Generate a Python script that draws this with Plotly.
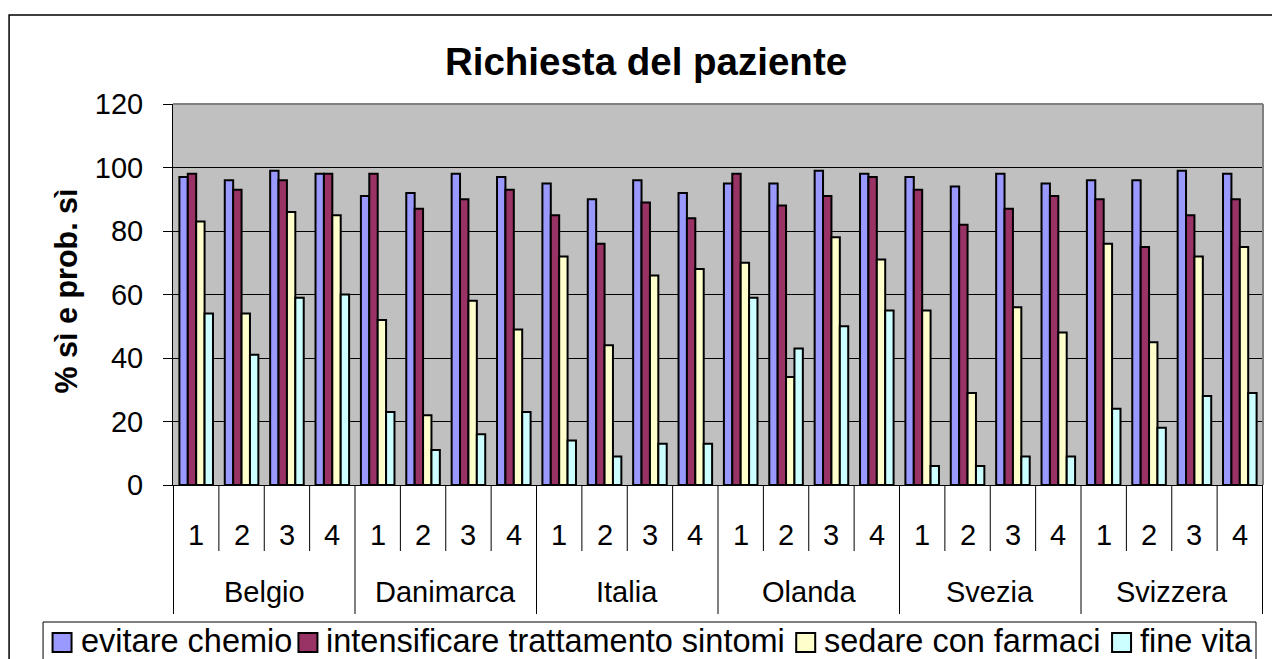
import plotly.graph_objects as go

countries = ["Belgio", "Danimarca", "Italia", "Olanda", "Svezia", "Svizzera"]
subgroups = ["1", "2", "3", "4"]

series_names = ["evitare chemio", "intensificare trattamento sintomi",
                "sedare con farmaci", "fine vita"]
colors = ["#9999FF", "#993366", "#FFFFCC", "#CCFFFF"]

evitare_chemio = [97, 96, 99, 98, 91, 92, 98, 97, 95, 90, 96, 92,
                  95, 95, 99, 98, 97, 94, 98, 95, 96, 96, 99, 98]
intensificare = [98, 93, 96, 98, 98, 87, 90, 93, 85, 76, 89, 84,
                 98, 88, 91, 97, 93, 82, 87, 91, 90, 75, 85, 90]
sedare = [83, 54, 86, 85, 52, 22, 58, 49, 72, 44, 66, 68,
          70, 34, 78, 71, 55, 29, 56, 48, 76, 45, 72, 75]
fine_vita = [54, 41, 59, 60, 23, 11, 16, 23, 14, 9, 13, 13,
             59, 43, 50, 55, 6, 6, 9, 9, 24, 18, 28, 29]

y_ticks = [0, 20, 40, 60, 80, 100, 120]

W, H = 1272, 659
L, R, T, B = 172.5, 1263, 104, 485
FONT = "Liberation Sans, Arial, sans-serif"


def px_x(p):
    return (p - L) / (R - L)


def px_y(p):
    return (B - p) / (B - T)


cats = [c + " " + s for c in countries for s in subgroups]

fig = go.Figure()
for name, vals, col in zip(series_names,
                           [evitare_chemio, intensificare, sedare, fine_vita],
                           colors):
    fig.add_trace(go.Bar(
        x=cats, y=vals, name=name,
        marker=dict(color=col, line=dict(color="black", width=2)),
        showlegend=False
    ))

shapes = []
annotations = []

# category axis dividers and labels
n = len(cats)
for i in range(n + 1):
    long_line = (i % len(subgroups) == 0)
    shapes.append(dict(type="line", xref="x", yref="paper",
                       x0=i - 0.5, x1=i - 0.5, y0=0,
                       y1=px_y(614 if long_line else 551),
                       line=dict(color="black", width=1)))
for i, c in enumerate(cats):
    annotations.append(dict(x=c, y=px_y(535), xref="x", yref="paper",
                            text=c.split(" ")[1], showarrow=False,
                            xanchor="center", yanchor="middle",
                            font=dict(family=FONT, size=29, color="black")))
for k, c in enumerate(countries):
    annotations.append(dict(x=k * 4 + 1.5, y=px_y(592), xref="x", yref="paper",
                            text=c, showarrow=False,
                            xanchor="center", yanchor="middle",
                            font=dict(family=FONT, size=29, color="black")))

# plot-area border (top and right)
shapes.append(dict(type="line", xref="paper", yref="paper", x0=0, x1=1, y0=1, y1=1,
                   line=dict(color="#808080", width=2), layer="above"))
shapes.append(dict(type="line", xref="paper", yref="paper", x0=1, x1=1, y0=0, y1=1,
                   line=dict(color="#808080", width=2), layer="above"))

# outer chart border
shapes.append(dict(type="rect", xref="paper", yref="paper",
                   x0=px_x(8.5), x1=px_x(1275), y0=px_y(665), y1=px_y(15),
                   line=dict(color="black", width=1.5)))

# legend box
shapes.append(dict(type="rect", xref="paper", yref="paper",
                   x0=px_x(42.5), x1=px_x(1256), y0=px_y(670), y1=px_y(622),
                   line=dict(color="black", width=1)))
legend_text_x = [80, 326, 824, 1140]
for name, col, tx in zip(series_names, colors, legend_text_x):
    shapes.append(dict(type="rect", xref="paper", yref="paper",
                       x0=px_x(tx - 28), x1=px_x(tx - 9),
                       y0=px_y(652), y1=px_y(633),
                       fillcolor=col, line=dict(color="black", width=2)))
    annotations.append(dict(x=px_x(tx - 2), y=px_y(641), xref="paper", yref="paper",
                            text=name, showarrow=False,
                            xanchor="left", yanchor="middle",
                            font=dict(family=FONT, size=32.5, color="black")))

# y axis title
annotations.append(dict(x=px_x(65), y=px_y(291), xref="paper", yref="paper",
                        text="<b>% sì e prob. sì</b>", textangle=-90,
                        showarrow=False, xanchor="center", yanchor="middle",
                        font=dict(family=FONT, size=30.5, color="black")))

fig.update_layout(
    width=W, height=H,
    margin=dict(l=L, r=W - R, t=T, b=H - B, pad=0),
    paper_bgcolor="white",
    plot_bgcolor="#C0C0C0",
    bargap=0.26, bargroupgap=0,
    title=dict(text="<b>Richiesta del paziente</b>", x=646 / W, y=1 - 62 / H,
               xanchor="center", yanchor="middle",
               font=dict(family=FONT, size=38.5, color="black")),
    shapes=shapes,
    annotations=annotations,
)
fig.update_xaxes(type="category", showticklabels=False, ticks="",
                 showline=True, linecolor="black", linewidth=1,
                 showgrid=False)
fig.update_yaxes(range=[0, 120], tickvals=y_ticks, ticks="outside", ticklen=9,
                 tickcolor="black", showline=True, linecolor="black", linewidth=1,
                 showgrid=True, gridcolor="black", gridwidth=1, zeroline=False,
                 ticklabelstandoff=14,
                 tickfont=dict(family=FONT, size=29, color="black"))

fig.write_html("out.html", config={"displayModeBar": False},
               post_script="document.body.style.margin = '0';")
